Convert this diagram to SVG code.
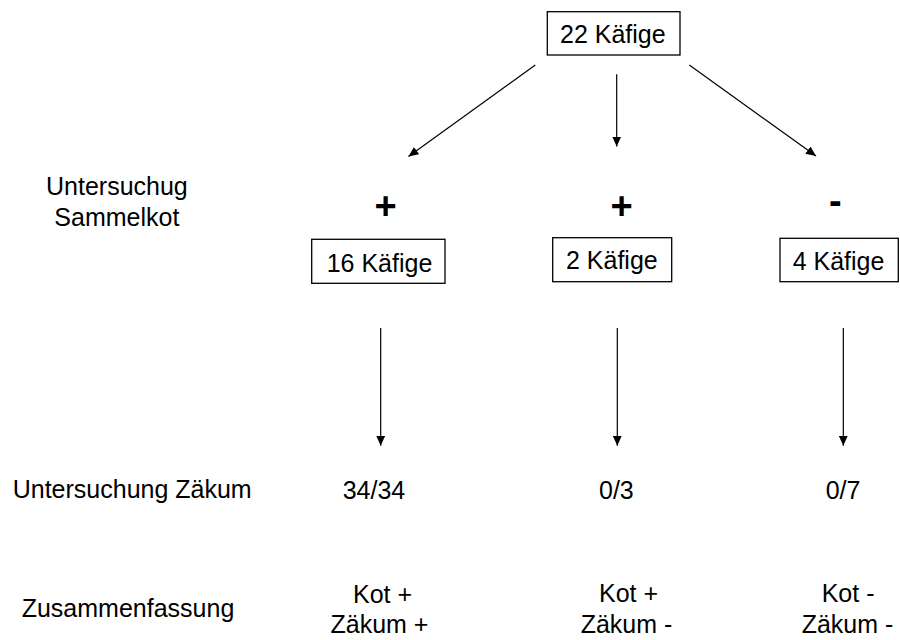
<svg xmlns="http://www.w3.org/2000/svg" width="900" height="640" viewBox="0 0 900 640">
<defs>
<marker id="ah" markerUnits="userSpaceOnUse" markerWidth="10" markerHeight="9" refX="10" refY="4.5" orient="auto">
<path d="M0,0 L10,4.5 L0,9 z" fill="#000"/>
</marker>
<style>
text{font-family:"Liberation Sans",Arial,sans-serif;font-size:25px;fill:#000}
.sign{font-weight:bold;font-size:38px;text-anchor:middle}
.box{fill:#fff;stroke:#000;stroke-width:1.3}
.conn line{stroke:#000;stroke-width:1.2;marker-end:url(#ah)}
</style>
</defs>
<rect width="900" height="640" fill="#fff"/>

<g id="connectors" class="conn">
<line x1="535.3" y1="65" x2="408.5" y2="156.5"/>
<line x1="616.7" y1="74.3" x2="616.7" y2="146.5"/>
<line x1="689.3" y1="65" x2="816" y2="156"/>
<line x1="380.7" y1="328" x2="380.7" y2="445.7"/>
<line x1="617.3" y1="328" x2="617.3" y2="445.7"/>
<line x1="843.3" y1="328" x2="843.3" y2="445.7"/>
</g>

<g id="n-top">
<rect class="box" x="547.3" y="11.7" width="132.7" height="43.3"/>
<text x="560" y="43">22 Käfige</text>
</g>

<g id="label-sammelkot">
<text x="46" y="195">Untersuchug</text>
<text x="54.3" y="226">Sammelkot</text>
</g>

<g id="sign-1"><text class="sign" x="385.5" y="218.5">+</text></g>
<g id="sign-2"><text class="sign" x="621.7" y="218.5">+</text></g>
<g id="sign-3"><text class="sign" x="835.3" y="214">-</text></g>

<g id="n-16">
<rect class="box" x="311.7" y="239.3" width="133.3" height="44"/>
<text x="326.7" y="271.7">16 Käfige</text>
</g>
<g id="n-2">
<rect class="box" x="552.7" y="237.7" width="119" height="44"/>
<text x="566" y="269.3">2 Käfige</text>
</g>
<g id="n-4">
<rect class="box" x="780" y="238.3" width="118.3" height="43.4"/>
<text x="792.7" y="270">4 Käfige</text>
</g>

<g id="label-zaekum">
<text x="12.7" y="498">Untersuchung Zäkum</text>
</g>
<g id="r-1"><text x="342.7" y="499">34/34</text></g>
<g id="r-2"><text x="599" y="499">0/3</text></g>
<g id="r-3"><text x="825.7" y="499">0/7</text></g>

<g id="label-summary">
<text x="21.7" y="616.7">Zusammenfassung</text>
</g>
<g id="s-1">
<text x="353" y="603">Kot +</text>
<text x="330.5" y="633">Zäkum +</text>
</g>
<g id="s-2">
<text x="599" y="602.3">Kot +</text>
<text x="580.7" y="633">Zäkum -</text>
</g>
<g id="s-3">
<text x="821.7" y="602.3">Kot -</text>
<text x="801.7" y="633">Zäkum -</text>
</g>
</svg>
